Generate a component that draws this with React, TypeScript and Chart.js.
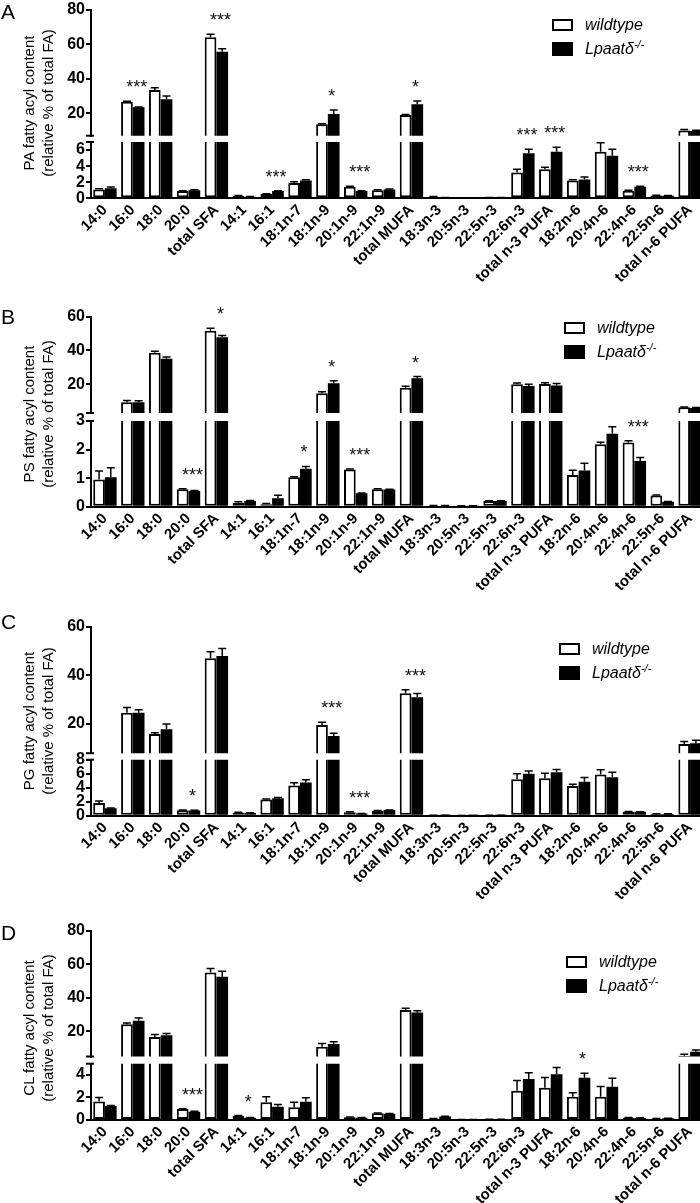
import React, { useEffect, useRef } from 'react';
import { Chart, registerables } from 'chart.js';
Chart.register(...registerables);

const FONT = "'Liberation Sans', Arial, Helvetica, sans-serif";
Chart.defaults.font.family = FONT;

const categories = ['14:0', '16:0', '18:0', '20:0', 'total SFA', '14:1', '16:1', '18:1n-7', '18:1n-9', '20:1n-9', '22:1n-9', 'total MUFA', '18:3n-3', '20:5n-3', '22:5n-3', '22:6n-3', 'total n-3 PUFA', '18:2n-6', '20:4n-6', '22:4n-6', '22:5n-6', 'total n-6 PUFA'];
const seriesNames = ['wildtype', 'Lpaatδ'];

// Panel A (PA)
const paWild = [1.1, 26.7, 33.5, 0.9, 64.2, 0.32, 0.53, 1.9, 13.6, 1.44, 1.0, 19.0, 0.2, 0.05, 0.1, 3.2, 3.6, 2.2, 5.8, 0.95, 0.35, 10.0];
const paWildErr = [0.1, 0.3, 1.3, 0.05, 1.7, 0.03, 0.05, 0.15, 0.3, 0.05, 0.05, 0.3, 0.02, 0.01, 0.01, 0.4, 0.25, 0.1, 1.1, 0.05, 0.03, 0.6];
const paKo = [1.25, 23.5, 28.1, 1.0, 55.8, 0.2, 0.9, 2.2, 19.6, 0.9, 1.1, 25.2, 0.1, 0.05, 0.1, 5.6, 5.8, 2.35, 5.3, 1.45, 0.33, 9.7];
const paKoErr = [0.15, 0.2, 2.0, 0.05, 1.7, 0.02, 0.05, 0.1, 2.3, 0.05, 0.05, 2.0, 0.01, 0.01, 0.01, 0.5, 0.55, 0.3, 0.8, 0.05, 0.03, 0.4];
const paStars = ['', '***', '', '', '***', '', '***', '', '*', '***', '', '*', '', '', '', '***', '***', '', '', '***', '', ''];
const paUpperTicks = [20, 40, 60, 80];
const paLowerTicks = [0, 2, 4, 6];

// Panel B (PS)
const psWild = [0.95, 9.4, 38.7, 0.61, 51.7, 0.14, 0.09, 1.03, 14.7, 1.3, 0.61, 18.0, 0.03, 0.02, 0.2, 20.0, 20.2, 1.11, 2.19, 2.25, 0.39, 6.4];
const psWildErr = [0.3, 1.0, 0.8, 0.02, 1.4, 0.03, 0.02, 0.02, 0.9, 0.02, 0.02, 0.8, 0.01, 0.01, 0.01, 0.8, 0.7, 0.17, 0.07, 0.06, 0.02, 0.2];
const psKo = [1.03, 9.3, 35.1, 0.55, 47.8, 0.2, 0.3, 1.33, 20.6, 0.47, 0.6, 23.6, 0.03, 0.02, 0.2, 19.0, 19.3, 1.27, 2.55, 1.6, 0.17, 6.0];
const psKoErr = [0.33, 1.0, 1.0, 0.02, 1.0, 0.02, 0.1, 0.08, 1.5, 0.01, 0.01, 1.0, 0.01, 0.01, 0.01, 1.0, 1.1, 0.25, 0.25, 0.12, 0.01, 0.2];
const psStars = ['', '', '', '***', '*', '', '', '*', '*', '***', '', '*', '', '', '', '', '', '', '', '***', '', ''];
const psUpperTicks = [20, 40, 60];
const psLowerTicks = [0, 1, 2, 3];

// Panel C (PG)
const pgWild = [1.8, 24.6, 15.9, 0.77, 47.0, 0.43, 2.3, 4.3, 19.6, 0.5, 0.7, 32.6, 0.05, 0.03, 0.05, 5.2, 5.35, 4.25, 5.9, 0.55, 0.25, 11.8];
const pgWildErr = [0.3, 2.2, 0.5, 0.05, 2.7, 0.05, 0.1, 0.4, 1.1, 0.05, 0.05, 1.5, 0.01, 0.01, 0.01, 0.8, 0.7, 0.25, 0.67, 0.05, 0.02, 1.0];
const pgKo = [1.05, 24.6, 17.8, 0.75, 48.0, 0.38, 2.5, 4.75, 15.1, 0.3, 0.8, 31.0, 0.05, 0.03, 0.05, 6.0, 6.2, 4.85, 5.5, 0.55, 0.25, 12.1];
const pgKoErr = [0.05, 1.3, 2.2, 0.03, 3.0, 0.03, 0.1, 0.4, 1.1, 0.03, 0.03, 1.5, 0.01, 0.01, 0.01, 0.4, 0.4, 0.6, 0.7, 0.03, 0.02, 1.2];
const pgStars = ['', '', '', '*', '', '', '', '', '***', '***', '', '***', '', '', '', '', '', '', '', '', '', ''];
const pgUpperTicks = [20, 40, 60];
const pgLowerTicks = [0, 2, 4, 6, 8];

// Panel D (CL)
const clWild = [1.65, 24.2, 16.6, 0.98, 55.1, 0.36, 1.57, 1.13, 10.8, 0.25, 0.6, 32.7, 0.12, 0.03, 0.05, 2.6, 2.87, 2.07, 2.07, 0.2, 0.12, 5.5];
const clWildErr = [0.35, 0.7, 1.5, 0.03, 2.4, 0.03, 0.5, 0.45, 2.0, 0.02, 0.03, 1.0, 0.02, 0.01, 0.01, 0.9, 0.9, 0.36, 0.9, 0.02, 0.01, 0.8];
const clKo = [1.24, 26.3, 17.6, 0.74, 52.5, 0.2, 1.18, 1.63, 12.4, 0.2, 0.55, 31.3, 0.3, 0.03, 0.05, 3.64, 4.06, 3.76, 2.96, 0.18, 0.15, 7.9];
const clKoErr = [0.05, 1.6, 1.1, 0.03, 3.3, 0.02, 0.2, 0.35, 1.4, 0.02, 0.02, 1.0, 0.03, 0.01, 0.01, 0.55, 0.6, 0.4, 0.74, 0.02, 0.01, 1.0];
const clStars = ['', '', '', '***', '', '*', '', '', '', '', '', '', '', '', '', '', '', '*', '', '', '', ''];
const clUpperTicks = [20, 40, 60, 80];
const clLowerTicks = [0, 2, 4];

type Geo = { upperTop: number; upperBottom: number; lowerTop: number; zeroY: number; titleY: number; letterTop: number; legendX: number; legendY: number };
type Panel = {
  letter: string; lipid: string;
  wild: number[]; wildErr: number[]; ko: number[]; koErr: number[]; stars: string[];
  split: number; upperMax: number; upperTicks: number[]; lowerTicks: number[]; geo: Geo;
};

const PANELS: Panel[] = [
  { letter: 'A', lipid: 'PA', wild: paWild, wildErr: paWildErr, ko: paKo, koErr: paKoErr, stars: paStars, split: 7, upperMax: 80, upperTicks: paUpperTicks, lowerTicks: paLowerTicks,
    geo: { upperTop: 10, upperBottom: 135.7, lowerTop: 142, zeroY: 198.3, titleY: 103, letterTop: 0.5, legendX: 552, legendY: 19 } },
  { letter: 'B', lipid: 'PS', wild: psWild, wildErr: psWildErr, ko: psKo, koErr: psKoErr, stars: psStars, split: 3, upperMax: 60, upperTicks: psUpperTicks, lowerTicks: psLowerTicks,
    geo: { upperTop: 316.7, upperBottom: 413, lowerTop: 421, zeroY: 506.7, titleY: 413.5, letterTop: 305.5, legendX: 564, legendY: 322 } },
  { letter: 'C', lipid: 'PG', wild: pgWild, wildErr: pgWildErr, ko: pgKo, koErr: pgKoErr, stars: pgStars, split: 8, upperMax: 60, upperTicks: pgUpperTicks, lowerTicks: pgLowerTicks,
    geo: { upperTop: 626.7, upperBottom: 753.2, lowerTop: 759.7, zeroY: 815.7, titleY: 721, letterTop: 610.5, legendX: 559, legendY: 643 } },
  { letter: 'D', lipid: 'CL', wild: clWild, wildErr: clWildErr, ko: clKo, koErr: clKoErr, stars: clStars, split: 5, upperMax: 80, upperTicks: clUpperTicks, lowerTicks: clLowerTicks,
    geo: { upperTop: 930.7, upperBottom: 1056.5, lowerTop: 1063.7, zeroY: 1120, titleY: 1028, letterTop: 922, legendX: 566, legendY: 956 } },
];

const CANVAS_W = 704;
const AXIS_W = 91;
const X_AXIS_H = 96;

function makeChart(canvas: HTMLCanvasElement, panel: Panel, role: 'upper' | 'lower', canvasTop: number, canvasH: number) {
  const g = panel.geo;
  const upper = role === 'upper';
  const padTop = (upper ? g.upperTop : g.lowerTop) - canvasTop;
  const padBottom = upper ? canvasTop + canvasH - g.upperBottom : 0;
  const xAxisH = canvasTop + canvasH - g.zeroY;
  const seg = (arr: number[]) => (upper ? arr.map((v) => (v > panel.split ? v : null)) : arr.slice());
  const ticks = upper ? panel.upperTicks : panel.lowerTicks;

  const overlay = {
    id: 'overlay',
    afterDatasetsDraw(chart: any) {
      const ctx = chart.ctx as CanvasRenderingContext2D;
      const ys = chart.scales.y;
      const xs = chart.scales.x;
      ctx.save();
      ctx.strokeStyle = '#000';
      ctx.lineWidth = 1.5;
      const pairs: [number[], number[]][] = [[panel.wild, panel.wildErr], [panel.ko, panel.koErr]];
      pairs.forEach(([vals, errs], d) => {
        const meta = chart.getDatasetMeta(d);
        vals.forEach((v, i) => {
          const inSeg = upper ? v > panel.split : v <= panel.split;
          if (!inSeg) return;
          const bx = meta.data[i].x;
          const y0 = ys.getPixelForValue(v);
          const y1 = ys.getPixelForValue(v + errs[i]);
          ctx.beginPath();
          ctx.moveTo(bx, y0);
          ctx.lineTo(bx, y1);
          ctx.moveTo(bx - 4, y1);
          ctx.lineTo(bx + 4, y1);
          ctx.stroke();
        });
      });
      ctx.fillStyle = '#111';
      ctx.font = `18px ${FONT}`;
      ctx.textAlign = 'center';
      ctx.textBaseline = 'alphabetic';
      panel.stars.forEach((s, i) => {
        if (!s) return;
        const top = Math.max(panel.wild[i] + panel.wildErr[i], panel.ko[i] + panel.koErr[i]);
        const inSeg = upper ? top > panel.split : top <= panel.split;
        if (!inSeg) return;
        ctx.fillText(s, xs.getPixelForValue(i) + 4, ys.getPixelForValue(top) - 8);
      });
      const ax = chart.chartArea.left;
      const by = upper ? chart.chartArea.bottom : chart.chartArea.top;
      ctx.lineWidth = 2;
      ctx.beginPath();
      ctx.moveTo(ax - 5, by);
      ctx.lineTo(ax + 3, by);
      ctx.stroke();
      ctx.restore();
    },
  };

  return new Chart(canvas, {
    type: 'bar',
    data: {
      labels: categories,
      datasets: [
        { label: seriesNames[0], data: seg(panel.wild), backgroundColor: '#fff', borderColor: '#000', borderWidth: 2, borderSkipped: upper ? 'bottom' : false, categoryPercentage: 0.84, barPercentage: 1 },
        { label: seriesNames[1], data: seg(panel.ko), backgroundColor: '#000', borderColor: '#000', borderWidth: 0, categoryPercentage: 0.84, barPercentage: 1 },
      ],
    },
    options: {
      responsive: false,
      maintainAspectRatio: false,
      animation: false,
      events: [],
      layout: { padding: { top: padTop, bottom: padBottom, left: 0, right: 0 } },
      plugins: { legend: { display: false }, tooltip: { enabled: false }, title: { display: false } },
      scales: {
        x: upper
          ? { type: 'category', display: false, offset: true }
          : {
              type: 'category', offset: true,
              grid: { display: false, drawTicks: false },
              border: { display: true, color: '#000', width: 2 },
              ticks: { autoSkip: false, maxRotation: 45, minRotation: 45, color: '#000', padding: 3, font: { family: FONT, size: 15, weight: 'bold' } },
              afterFit: (s: any) => { s.height = xAxisH; s.paddingLeft = 0; s.paddingRight = 0; },
            },
        y: {
          type: 'linear',
          min: upper ? panel.split : 0,
          max: upper ? panel.upperMax : panel.split,
          afterBuildTicks: (s: any) => { s.ticks = ticks.map((v) => ({ value: v })); },
          afterFit: (s: any) => { s.width = AXIS_W; s.paddingTop = 0; s.paddingBottom = 0; },
          grid: { drawOnChartArea: false, drawTicks: true, tickLength: 5, color: '#000', lineWidth: 2 },
          border: { display: true, color: '#000', width: 2 },
          ticks: { autoSkip: false, color: '#000', padding: 1, font: { family: FONT, size: 16, weight: 'bold' } },
        },
      },
    } as any,
    plugins: [overlay],
  });
}

function Legend({ x, y }: { x: number; y: number }) {
  const txt: React.CSSProperties = { position: 'absolute', left: x + 33, font: `italic 16px ${FONT}`, lineHeight: '18px', whiteSpace: 'nowrap', color: '#000' };
  return (
    <>
      <div style={{ position: 'absolute', left: x, top: y, width: 21, height: 12, border: '2px solid #000', boxSizing: 'border-box', background: '#fff' }} />
      <div style={{ position: 'absolute', left: x, top: y + 23, width: 21, height: 14, background: '#000' }} />
      <div style={{ ...txt, top: y - 3 }}>{seriesNames[0]}</div>
      <div style={{ ...txt, top: y + 21 }}>
        {seriesNames[1]}
        <sup style={{ fontSize: 11, lineHeight: 0 }}>-/-</sup>
      </div>
    </>
  );
}

function PanelView({ panel }: { panel: Panel }) {
  const upRef = useRef<HTMLCanvasElement | null>(null);
  const loRef = useRef<HTMLCanvasElement | null>(null);
  const g = panel.geo;
  const canvasTop = Math.floor(g.upperTop - 24);
  const canvasBottom = Math.ceil(g.zeroY + X_AXIS_H);
  const h = canvasBottom - canvasTop;

  useEffect(() => {
    const lo = makeChart(loRef.current as HTMLCanvasElement, panel, 'lower', canvasTop, h);
    const up = makeChart(upRef.current as HTMLCanvasElement, panel, 'upper', canvasTop, h);
    return () => { lo.destroy(); up.destroy(); };
  }, []);

  const cstyle: React.CSSProperties = { position: 'absolute', left: 0, top: canvasTop, width: CANVAS_W, height: h };
  return (
    <>
      <canvas ref={loRef} width={CANVAS_W} height={h} style={cstyle} />
      <canvas ref={upRef} width={CANVAS_W} height={h} style={cstyle} />
      <div style={{ position: 'absolute', left: 1, top: g.letterTop, font: `21px ${FONT}`, lineHeight: '21px', color: '#000' }}>{panel.letter}</div>
      <div style={{ position: 'absolute', left: 37.5 - 110, top: g.titleY - 19, width: 220, height: 38, transform: 'rotate(-90deg)', textAlign: 'center', font: `15px ${FONT}`, lineHeight: '19px', whiteSpace: 'nowrap', color: '#000' }}>
        {panel.lipid} fatty acyl content
        <br />
        (relative % of total FA)
      </div>
      <Legend x={g.legendX} y={g.legendY} />
    </>
  );
}

export default function App() {
  return (
    <div style={{ position: 'absolute', left: 0, top: 0, width: 700, height: 1203, overflow: 'hidden', background: '#fff' }}>
      {PANELS.map((p) => (
        <PanelView key={p.letter} panel={p} />
      ))}
    </div>
  );
}
